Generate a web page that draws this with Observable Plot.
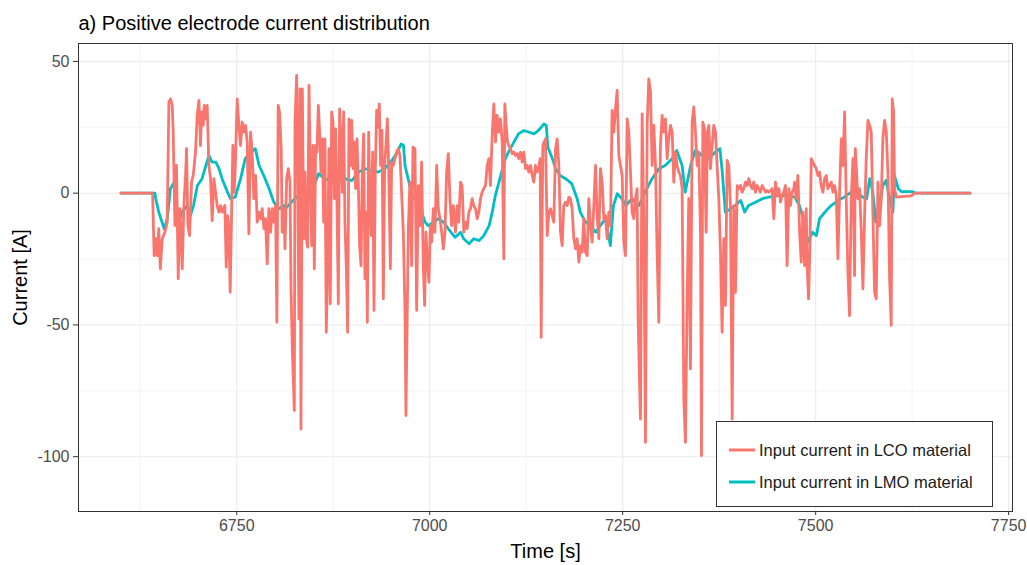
<!DOCTYPE html>
<html>
<head>
<meta charset="utf-8">
<script src="https://cdn.jsdelivr.net/npm/d3@7"></script>
<script src="https://cdn.jsdelivr.net/npm/@observablehq/plot@0.6"></script>
<style>
  body { margin: 0; background: #fff; font-family: "Liberation Sans", Arial, sans-serif; }
  #wrap { position: relative; width: 1027px; height: 565px; overflow: hidden; }
  #legend { position: absolute; left: 716px; top: 421px; width: 277px; height: 86px; border: 1px solid #333; background: #fff; box-sizing: border-box; }
  .lrow { position: absolute; left: 12px; height: 20px; display: flex; align-items: center; font-size: 16.5px; color: #1a1a1a; white-space: nowrap; }
  .lrow svg { margin-right: 4px; }
  g[aria-label="x-axis label"] text, g[aria-label="y-axis label"] text { font-size: 20px; fill: #000; }
</style>
</head>
<body>
<div id="wrap"></div>
<script>
const titleText = "a) Positive electrode current distribution";
const seriesNames = ["Input current in LCO material", "Input current in LMO material"];
const seriesColors = ["#F8766D", "#00BFC4"];
const xTicks = [6750, 7000, 7250, 7500, 7750];
const xMinor = [6625, 6875, 7125, 7375, 7625];
const yTicks = [-100, -50, 0, 50];
const yMinor = [-75, -25, 25];

const lcoTime = [6600,6641,6643,6645,6647,6649,6651,6653.5,6656.9,6659.9,6662.1,6664.2,6666.4,6667.7,6669.9,6672,6674.2,6676.3,6678.1,6679.4,6681.5,6683.7,6685,6686.7,6688.9,6691.5,6693.6,6696.6,6698.8,6701,6703.1,6704.4,6706.6,6707.9,6709.6,6711.7,6713.9,6716.1,6718.2,6720.4,6722.5,6724.7,6726.9,6729,6731.2,6734.6,6736.4,6738.1,6739.8,6741.5,6743.3,6745,6746.7,6748.4,6750.6,6752.8,6754.9,6757.1,6759.2,6761.4,6763.6,6765.7,6767.9,6770,6772.2,6774.4,6776.5,6778.7,6780.8,6783,6785.2,6787.3,6789.5,6791.6,6793.8,6796,6798.1,6800.3,6802,6803.7,6805.4,6807.6,6808.9,6811.1,
6812.5,6814.7,6816.8,6819,6820.3,6822,6824.6,6825.5,6827.6,6828.9,6830.6,6831.9,6833.2,6835,6836.7,6838.4,6840.1,6841.9,6843.6,6845.3,6847.1,6848.8,6850.5,6852.2,6854,6855.7,6857.4,6859.1,6860.9,6862.6,6864.3,6866,6867.8,6869.5,6871.2,6873,6874.7,6876.4,6878.1,6879.9,6881.6,6883.3,6885,6886.8,6888.5,6890.2,6892,6893.7,6895.4,6897.1,6898.9,6900.6,6902.3,6904,6905.8,6907.5,6909.2,6911,6912.7,6914.4,6916.1,6917.9,6919.2,6920.9,6922.6,6924.3,6926.1,6927.8,6929.5,6931.2,6933,6934.7,6936.4,6938.2,6939.9,6941.6,6943.3,6945.1,6946.8,6949,6950.7,6952.8,6955,6957.2,6959.3,6961.5,6965.8,6968,6969.2,6972.3,6974.4,6976.6,6978.3,6980.9,6983.1,6985.2,6987.4,6989.5,6991.7,6993.4,6995.1,6997.3,6999,7000.8,7002.5,7004.7,7006.8,7009,7011.1,7013.3,7015.5,7017.6,7019.8,7021.9,7024.1,7026.2,7028.4,7030.6,
7033.4,7035.6,7037.7,7039.9,7042,7044.2,7046.4,7048.5,7050.7,7052.8,7055,7057.1,7059.3,7061.5,7063.6,7065.8,7067.9,7070.1,7072.3,7074.4,7076.6,7078.7,7080.9,7083.1,7085.2,7087.4,7089.5,7091.7,7093.9,7096,7097.3,7099,7100.8,7102.5,7104.6,7106.8,7109,7111.1,7113.3,7115.4,7117.6,7119.8,7121.9,7124.1,7126.2,7128.4,7130.6,7132.7,7134.9,7137,7139.2,7141.4,7143.1,7144.4,7146.5,7148.3,7150,7152.2,7154.3,7156.5,7158.6,7160.8,7163,7165.1,7167.3,7169.4,7171.6,7173.7,7175.9,7178.1,7180.2,7182.4,7184.5,7186.7,7188.9,7191,7193.2,7195.3,7197.5,7199.6,7201.8,7204,7206.1,7208.3,7210.4,7212.6,7214.8,7216.9,7219.1,7221.2,7223.4,7225.6,7227.7,7229.9,7232,7234.2,7236.3,7238.5,7240.7,7242.8,7245,7247.1,7249.3,7251.5,
7253.6,7255.8,7257.9,7260.1,7262.2,7264.4,7266.6,7268.7,7270,7271.7,7273,7275.2,7277.3,7279.5,7281.7,7283.8,7286,7288.1,7290.3,7292.5,7294.6,7296.8,7298.9,7301.1,7303.3,7305.4,7307.6,7309.7,7311.9,7314.1,7316.2,7318.4,7320.5,7322.7,7324.8,7327,7329.2,7331.3,7333.5,7335.6,7337.8,7340,7342.1,7344.3,7346.4,7348.6,7350.8,7352.1,7353.8,7355.9,7358.1,7359.8,7361.6,7363.7,7365.9,7368,7370.2,7372.3,7374.5,7376.7,7378.8,7381,7383.1,7385.3,7387.5,7389.6,7391.8,7393.9,7396.1,7398.3,7400.4,7402.6,7404.7,7406.9,7409.1,7411.2,7413.4,7415.5,7417.7,7419.8,7422,7424.2,7426.3,7428.5,7430.6,7432.8,7435,7437.1,7439.3,7443.6,7445.8,7447.9,7450.1,7452.2,7454.4,7456.6,7458.7,7460.9,7463,7465.2,7467.3,7469.5,7471.7,
7472.7,7474.9,7477,7479.2,7481.3,7483.5,7485.7,7487.8,7489.1,7490.8,7492.6,7494.3,7496.4,7498.6,7500.8,7502.9,7505.1,7507.2,7509.4,7511.6,7513.7,7515.9,7518,7520.2,7522.4,7524.5,7526.7,7528.8,7531,7533.2,7535.3,7537.5,7539.6,7541.8,7543.9,7546.1,7548.3,7550.4,7551.3,7552.6,7554.7,7556.9,7559.1,7561.2,7563.4,7565.5,7567.7,7569.9,7572,7574.2,7576.3,7578.5,7580.7,7582.8,7585,7587.1,7589.3,7591.5,7593.6,7595.8,7597.9,7599.2,7601,7602.2,7604.4,7615,7624,7628,7700];
const lcoCurrent = [0,0,-23.7,-17.3,-23.7,-13.5,-28.7,-17.3,-14.8,-11.0,34.6,35.8,33.3,23.2,-12.3,10.5,-32.5,-5.9,-17.3,-28.7,-4.7,6.7,16.9,-12.3,-16.1,4.2,6.7,15.6,29.5,35.2,18.1,30.8,25.7,33.3,28.2,33.3,10.5,5.5,-10.4,5.5,0.4,-4.7,-7.2,-4.7,-7.2,-4.7,-28.1,-8.5,-12.3,-37.6,-8.5,18.1,0.4,13.1,35.8,25.7,18.1,27.0,23.2,25.7,19.4,-15.4,23.2,15.6,-2.1,6.7,-11.0,-7.2,-9.7,-5.9,-13.5,-9.7,-26.8,-5.9,-14.8,-5.9,-11.0,-4.7,-49.0,33.3,30.8,16.9,-14.8,-5.9,
-21.1,5.5,9.3,4.2,-36.3,-59.1,-82.5,27.0,44.7,10.5,-47.7,39.6,-89.5,39.6,-17.3,8.0,-17.3,-20.5,40.9,8.0,-19.9,18.1,-28.7,18.1,15.6,33.3,23.2,8.0,20.6,-11.0,20.6,-52.8,-27.5,16.9,-42.0,30.8,27.0,-2.1,24.4,-4.7,-42.0,32.0,20.6,0.4,30.8,-11.0,-28.7,-52.8,28.2,10.5,27.6,9.3,19.4,1.7,20.6,4.2,-19.9,-27.5,6.7,22.5,-32.5,-7.2,-49.0,23.2,-4.7,-16.1,15.6,-44.5,8.0,31.4,25.1,33.9,10.5,23.8,-40.1,10.5,18.1,28.2,10.5,-28.7,11.8,10.5,13.1,15.6,16.9,14.3,-14.8,-45.2,-84.4,-13.5,4.2,-27.5,17.5,16.9,-44.5,2.9,-12.3,11.8,-27.5,-42.6,-14.8,-27.5,-33.8,-12.3,-18.6,-5.9,-14.8,10.5,-5.9,-9.7,-14.8,-21.1,-14.8,8.0,15.0,-2.1,-12.3,-4.7,
-14.8,-4.7,-11.0,4.2,2.9,-14.8,-11.0,-13.5,-7.2,-5.9,-2.1,-4.7,-5.9,-9.7,-7.2,-2.1,0.4,1.7,2.9,10.5,13.1,2.9,21.9,33.9,19.4,29.5,23.2,28.2,19.4,-24.9,33.9,25.7,19.4,18.1,16.9,15.0,15.6,14.3,15.0,13.1,15.6,11.8,15.6,9.3,10.5,8.0,10.5,6.7,4.2,10.5,8.0,10.5,13.1,-54.7,18.1,19.4,20.6,-16.1,-7.2,-5.9,-8.5,-11.0,16.9,20.6,10.5,-14.8,-19.9,-4.7,-3.4,-4.7,-1.5,-2.1,-5.9,-17.3,-21.1,-17.3,-26.2,-19.9,-22.4,-9.7,-22.4,-23.7,-2.1,-12.3,-18.6,-4.7,10.5,-8.5,-17.3,9.3,4.2,-9.7,-8.5,-17.3,-7.2,-12.3,31.4,23.2,32.0,39.0,14.3,10.5,6.7,-18.6,
-23.7,28.2,23.2,8.0,-7.2,-9.7,-2.1,1.7,-47.7,-70.5,-85.7,30.1,-9.7,-94.6,25.7,43.4,38.4,10.5,25.7,10.5,-22.4,-49.0,18.1,29.5,23.2,28.2,13.1,20.6,25.7,23.2,4.2,15.6,10.5,8.0,6.7,1.7,-78.1,-94.6,-40.1,-2.1,-66.7,27.0,32.7,23.2,10.5,15.6,-14.8,-99.6,27.0,24.4,-14.8,23.2,25.7,9.3,18.1,25.7,23.2,10.5,-2.1,-22.4,-52.8,-17.3,-42.6,12.4,10.5,-4.7,-85.7,-4.7,-37.6,2.9,1.7,2.9,0.4,1.7,4.2,2.9,5.5,2.9,1.7,4.2,0.4,2.9,1.7,0.4,2.9,1.7,0.4,1.0,0.4,1.7,-9.7,4.2,-0.9,1.7,-3.4,-0.9,0.4,2.9,-27.5,1.7,-4.7,0.4,1.7,
4.2,-2.1,6.7,-14.8,-26.2,-7.2,-27.5,-5.9,-28.7,-40.1,-19.9,13.1,11.8,10.5,9.3,6.7,8.0,2.9,0.4,5.5,6.7,1.7,2.9,4.2,0.4,2.9,-0.9,-24.9,0.4,20.6,10.5,30.8,-2.1,-30.0,-46.5,-2.1,13.1,-31.3,16.9,10.5,-2.1,1.7,-14.8,-36.3,-8.5,13.1,27.6,25.7,23.2,-8.5,-37.6,-40.1,4.2,-12.3,-2.1,20.6,27.6,23.2,8.0,-32.5,-50.2,35.8,30.8,1.7,-1.5,-1.2,-1.0,0,0];

const lmoTime = [6600,6644,6645,6649,6656,6660,6664,6669,6672,6675,6679,6686,6690,6694,6699,6705,6710,6714,6718,6723,6727,6731,6738,6742,6748,6755,6761,6768,6774,6779,6785,6792,6798,6805,6811,
6813,6821,6830,6838,6847,6856,6864,6873,6882,6890,6899,6908,6916,6925,6933,6942,6951,6957,6963,6966,6968,6972,6977,6985,6994,6998,7005,7011,7018,7024,7031,
7033,7040,7044,7051,7057,7064,7070,7077,7081,7085,7092,7098,7102,7109,7115,7122,7128,7135,7141,7148,7151,7153,7159,7163,7169,7176,7184,7191,7195,7202,7208,7215,7221,7228,7234,7238,7243,7249,
7254,7262,7271,7279,7288,7297,7305,7314,7320,7327,7331,7338,7344,7353,7362,7370,7376,7379,7383,7390,7396,7403,7408,7413,7422,7431,7439,7452,7465,
7473,7479,7484,7490,7496,7501,7505,7512,7520,7529,7537,7546,7555,7561,7566,7570,7574,7578,7583,7587,7591,7596,7600,7602,7607,7611,7625,7630,7700];
const lmoCurrent = [0,0,-2.1,-7.2,-13.5,-9.7,1.7,4.2,-4.7,-11.0,-7.2,-4.7,-8.5,-4.7,2.9,5.5,10.5,14.3,11.8,11.8,9.3,5.5,0.4,-2.1,-1.5,5.5,13.1,15.6,16.9,10.5,6.7,1.7,-3.4,-5.9,-4.7,
-5.9,-3.4,-0.9,1.7,0.4,7.4,5.5,4.8,4.8,5.5,4.8,8.0,9.3,8.6,8.0,9.3,12.4,15.0,18.7,18.1,10.5,5.5,-0.9,-3.4,-11.0,-12.3,-11.0,-9.7,-11.0,-13.5,-16.1,
-16.7,-14.8,-17.3,-19.2,-17.3,-18.0,-16.1,-12.3,-7.2,-0.9,6.7,13.1,15.6,19.4,22.5,23.8,23.2,22.5,23.8,26.3,25.7,17.5,13.1,9.3,6.7,5.5,3.6,-2.1,-7.2,-11.0,-12.3,-14.8,-12.3,-9.7,-19.9,-4.7,-0.2,-2.1,
-4.7,-2.1,-4.7,0.4,5.5,9.3,10.5,13.1,16.2,10.5,0.4,10.5,16.2,14.3,13.1,15.6,16.9,8.0,-7.2,-5.9,-4.7,-2.8,-7.2,-4.7,-3.4,-2.1,-1.5,-0.9,-0.9,
-1.5,-4.7,-9.7,-18.6,-14.8,-16.1,-9.7,-7.2,-4.7,-2.8,-1.5,0.4,-0.2,-1.5,-2.1,5.5,0.4,-11.0,-4.7,2.9,4.8,-2.1,-7.2,6.7,1.7,0.6,0.6,0,0];

const rows = [];
lmoTime.forEach((t, i) => rows.push({time: t, current: lmoCurrent[i], series: seriesNames[1]}));
lcoTime.forEach((t, i) => rows.push({time: t, current: lcoCurrent[i], series: seriesNames[0]}));

const plain = d => String(d);

const chart = Plot.plot({
  width: 1027,
  height: 565,
  marginLeft: 78,
  marginRight: 15,
  marginTop: 43,
  marginBottom: 54,
  style: { fontFamily: '"Liberation Sans", Arial, sans-serif', background: "#fff", overflow: "visible" },
  x: { domain: [6545, 7755] },
  y: { domain: [-120.8, 56.8] },
  color: { domain: seriesNames, range: seriesColors },
  marks: [
    Plot.ruleX(xMinor, { stroke: "#ebebeb", strokeWidth: 0.6 }),
    Plot.ruleY(yMinor, { stroke: "#ebebeb", strokeWidth: 0.6 }),
    Plot.ruleX(xTicks, { stroke: "#ebebeb", strokeWidth: 1.1 }),
    Plot.ruleY(yTicks, { stroke: "#ebebeb", strokeWidth: 1.1 }),
    Plot.lineY(rows, { x: "time", y: "current", z: "series", stroke: "series", strokeWidth: 2.8, strokeLinejoin: "round", curve: "linear" }),
    Plot.frame({ stroke: "#333", strokeWidth: 1 }),
    Plot.axisX({ ticks: xTicks, tickFormat: plain, tickSize: 4, tickPadding: 4, fontSize: 16, color: "#4d4d4d", stroke: "#333",
                 label: "Time [s]", labelAnchor: "center", labelArrow: "none", labelOffset: 46 }),
    Plot.axisY({ ticks: yTicks, tickFormat: plain, tickSize: 5, tickPadding: 4, fontSize: 16, color: "#4d4d4d", stroke: "#333",
                 label: "Current [A]", labelAnchor: "center", labelArrow: "none", labelOffset: 66 }),
    Plot.text([titleText], { frameAnchor: "top-left", dy: -14, textAnchor: "start", lineAnchor: "bottom", fontSize: 20, fill: "#000" })
  ]
});

const wrap = document.getElementById("wrap");
wrap.appendChild(chart);

const legend = document.createElement("div");
legend.id = "legend";
seriesNames.forEach((name, i) => {
  const row = document.createElement("div");
  row.className = "lrow";
  row.style.top = (18 + i * 32) + "px";
  row.innerHTML = `<svg width="26" height="6"><line x1="0" x2="26" y1="3" y2="3" stroke="${seriesColors[i]}" stroke-width="3"/></svg><span>${name}</span>`;
  legend.appendChild(row);
});
wrap.appendChild(legend);
</script>
</body>
</html>
